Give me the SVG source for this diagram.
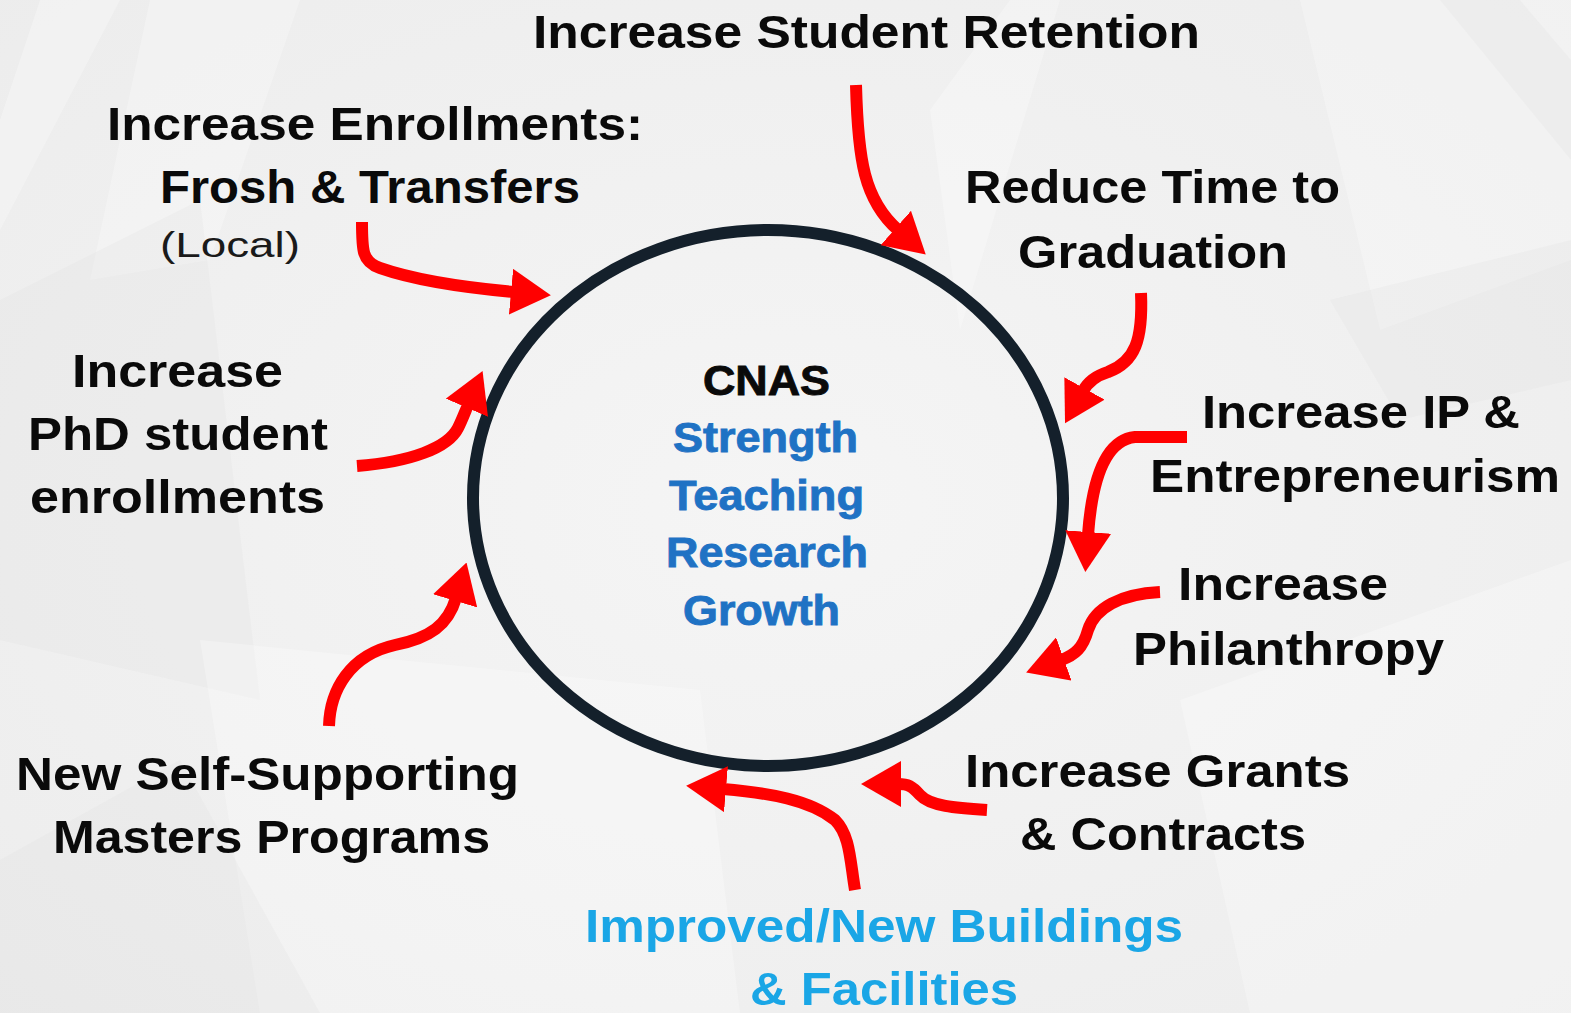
<svg xmlns="http://www.w3.org/2000/svg" width="1571" height="1013" viewBox="0 0 1571 1013">
<defs>
<radialGradient id="bg" cx="50%" cy="50%" r="75%">
<stop offset="0" stop-color="#f5f5f5"/>
<stop offset="1" stop-color="#ececec"/>
</radialGradient>
<marker id="head" markerUnits="userSpaceOnUse" viewBox="0 0 40 46" markerWidth="40" markerHeight="46" refX="3" refY="23" orient="auto">
<path d="M0,0 L40,23 L0,46 Z" fill="#ff0000"/>
</marker>
<style>
.lbl{font-family:"Liberation Sans",Arial,sans-serif;font-weight:bold;font-size:46px;fill:#0a0a0a}
.sm{font-family:"Liberation Sans",Arial,sans-serif;font-weight:normal;font-size:35px;fill:#1a1a1a}
.ctr{font-family:"Liberation Sans",Arial,sans-serif;font-weight:bold;font-size:42px;stroke-width:0.9}
.blk{fill:#0a0a0a;stroke:#0a0a0a}
.blue{fill:#1f72c4;stroke:#1f72c4}
.lblue{fill:#1aa6e6}
.arr{fill:none;stroke:#ff0000;stroke-width:12;stroke-linecap:butt;stroke-linejoin:round;marker-end:url(#head)}
.bgs{fill:#ffffff;opacity:0.28}
.bgd{fill:#dcdcdc;opacity:0.2}
</style>
</defs>
<rect width="1571" height="1013" fill="url(#bg)"/>
<g id="background">
<polygon class="bgs" points="40,0 120,0 0,230 0,120"/>
<polygon class="bgs" points="150,0 300,0 210,260 90,280"/>
<polygon class="bgd" points="0,300 200,200 260,700 0,640"/>
<polygon class="bgs" points="930,110 1010,0 1060,0 960,330"/>
<polygon class="bgs" points="1300,0 1571,0 1571,260 1380,330"/>
<polygon class="bgd" points="1440,0 1520,0 1571,60 1571,160"/>
<polygon class="bgs" points="200,640 700,690 740,1013 260,1013"/>
<polygon class="bgd" points="0,860 180,760 320,1013 0,1013"/>
<polygon class="bgs" points="1180,700 1571,560 1571,1013 1250,1013"/>
<polygon class="bgd" points="1330,300 1571,240 1571,380 1400,420"/>
</g>
<g id="center-node">
<ellipse cx="768" cy="498" rx="295" ry="268" fill="none" stroke="#14202b" stroke-width="12"/>
<text class="ctr blk" x="703" y="395" textLength="127" lengthAdjust="spacingAndGlyphs">CNAS</text>
<text class="ctr blue" x="673" y="452" textLength="185" lengthAdjust="spacingAndGlyphs">Strength</text>
<text class="ctr blue" x="669" y="510" textLength="195" lengthAdjust="spacingAndGlyphs">Teaching</text>
<text class="ctr blue" x="666" y="567" textLength="202" lengthAdjust="spacingAndGlyphs">Research</text>
<text class="ctr blue" x="683" y="625" textLength="157" lengthAdjust="spacingAndGlyphs">Growth</text>
</g>
<g id="n-retention">
<text class="lbl" x="533" y="48" textLength="667" lengthAdjust="spacingAndGlyphs">Increase Student Retention</text>
</g>
<g id="n-enrollments">
<text class="lbl" x="107" y="140" textLength="536" lengthAdjust="spacingAndGlyphs">Increase Enrollments:</text>
<text class="lbl" x="160" y="203" textLength="420" lengthAdjust="spacingAndGlyphs">Frosh &amp; Transfers</text>
<text class="sm" x="160" y="257" textLength="140" lengthAdjust="spacingAndGlyphs">(Local)</text>
</g>
<g id="n-graduation">
<text class="lbl" x="965" y="203" textLength="375" lengthAdjust="spacingAndGlyphs">Reduce Time to</text>
<text class="lbl" x="1018" y="268" textLength="270" lengthAdjust="spacingAndGlyphs">Graduation</text>
</g>
<g id="n-phd">
<text class="lbl" x="72" y="387" textLength="211" lengthAdjust="spacingAndGlyphs">Increase</text>
<text class="lbl" x="28" y="450" textLength="300" lengthAdjust="spacingAndGlyphs">PhD student</text>
<text class="lbl" x="30" y="513" textLength="295" lengthAdjust="spacingAndGlyphs">enrollments</text>
</g>
<g id="n-ip">
<text class="lbl" x="1202" y="428" textLength="318" lengthAdjust="spacingAndGlyphs">Increase IP &amp;</text>
<text class="lbl" x="1150" y="492" textLength="410" lengthAdjust="spacingAndGlyphs">Entrepreneurism</text>
</g>
<g id="n-philanthropy">
<text class="lbl" x="1178" y="600" textLength="210" lengthAdjust="spacingAndGlyphs">Increase</text>
<text class="lbl" x="1133" y="665" textLength="311" lengthAdjust="spacingAndGlyphs">Philanthropy</text>
</g>
<g id="n-masters">
<text class="lbl" x="16" y="790" textLength="503" lengthAdjust="spacingAndGlyphs">New Self-Supporting</text>
<text class="lbl" x="53" y="853" textLength="437" lengthAdjust="spacingAndGlyphs">Masters Programs</text>
</g>
<g id="n-grants">
<text class="lbl" x="965" y="787" textLength="385" lengthAdjust="spacingAndGlyphs">Increase Grants</text>
<text class="lbl" x="1020" y="850" textLength="286" lengthAdjust="spacingAndGlyphs">&amp; Contracts</text>
</g>
<g id="n-buildings">
<text class="lbl lblue" x="585" y="942" textLength="598" lengthAdjust="spacingAndGlyphs">Improved/New Buildings</text>
<text class="lbl lblue" x="750" y="1005" textLength="268" lengthAdjust="spacingAndGlyphs">&amp; Facilities</text>
</g>
<g id="connectors">
<path class="arr" d="M856,85 C858,160 864,200 898,230"/>
<path class="arr" d="M362,222 C362,250 362,262 380,268 C420,282 470,288 514,292"/>
<path class="arr" d="M357,466 C410,462 448,448 458,428 C462,420 465,412 468,405"/>
<path class="arr" d="M329,726 C330,690 350,655 395,645 C430,638 448,625 456,598"/>
<path class="arr" d="M1141,293 C1143,340 1135,362 1108,372 C1095,376 1088,382 1083,391"/>
<path class="arr" d="M1187,437 L1135,437 C1105,440 1092,480 1088,535"/>
<path class="arr" d="M1160,592 C1120,594 1095,608 1088,630 C1083,648 1075,655 1061,660"/>
<path class="arr" d="M987,810 C955,808 930,806 920,795 C912,786 908,784 898,784"/>
<path class="arr" d="M855,890 C850,860 850,835 835,820 C810,800 770,793 723,789"/>
</g>
</svg>
